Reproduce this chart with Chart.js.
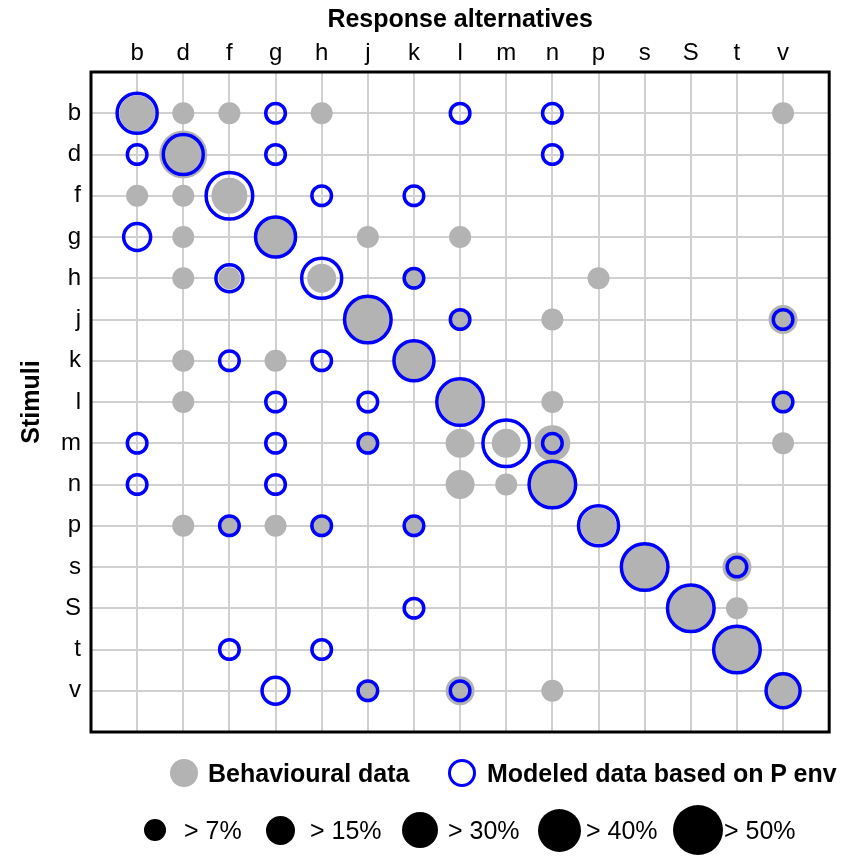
<!DOCTYPE html>
<html>
<head>
<meta charset="utf-8">
<script src="https://cdn.jsdelivr.net/npm/chart.js@4"></script>
<style>
  html, body { margin: 0; padding: 0; background: #fff; }
  #wrap { position: relative; width: 856px; height: 857px; font-family: "Liberation Sans", Arial, sans-serif; }
  #wrap canvas { position: absolute; left: 0; top: 0; }
  .key { position: absolute; height: 40px; line-height: 40px; font-size: 25px; color: #000; white-space: nowrap; }
  .dot { position: absolute; border-radius: 50%; box-sizing: border-box; }
</style>
</head>
<body>
<div id="wrap">
  <canvas id="confusionChart" width="856" height="857"></canvas>
  <div id="legend"></div>
</div>
<script>
// Response alternatives (columns) and stimuli (rows)
const responses = ['b', 'd', 'f', 'g', 'h', 'j', 'k', 'l', 'm', 'n', 'p', 's', 'S', 't', 'v'];
const stimuli = ['b', 'd', 'f', 'g', 'h', 'j', 'k', 'l', 'm', 'n', 'p', 's', 'S', 't', 'v'];

// Size class of each cell: 0 = hidden, 1..5 = the legend classes below
const sizeLabels = ['> 7%', '> 15%', '> 30%', '> 40%', '> 50%'];
const seriesNames = ['Behavioural data', 'Modeled data based on P env'];

// Behavioural data (grey discs), one row per stimulus
const behavioural = [
  [3, 1, 1, 0, 1, 0, 0, 0, 0, 0, 0, 0, 0, 0, 1],
  [0, 5, 0, 0, 0, 0, 0, 0, 0, 0, 0, 0, 0, 0, 0],
  [1, 1, 3, 0, 0, 0, 0, 0, 0, 0, 0, 0, 0, 0, 0],
  [0, 1, 0, 4, 0, 1, 0, 1, 0, 0, 0, 0, 0, 0, 0],
  [0, 1, 1, 0, 2, 0, 1, 0, 0, 0, 1, 0, 0, 0, 0],
  [0, 0, 0, 0, 0, 5, 0, 1, 0, 1, 0, 0, 0, 0, 2],
  [0, 1, 0, 1, 0, 0, 4, 0, 0, 0, 0, 0, 0, 0, 0],
  [0, 1, 0, 0, 0, 0, 0, 4, 0, 1, 0, 0, 0, 0, 1],
  [0, 0, 0, 0, 0, 1, 0, 2, 2, 3, 0, 0, 0, 0, 1],
  [0, 0, 0, 0, 0, 0, 0, 2, 1, 5, 0, 0, 0, 0, 0],
  [0, 1, 1, 1, 1, 0, 1, 0, 0, 0, 3, 0, 0, 0, 0],
  [0, 0, 0, 0, 0, 0, 0, 0, 0, 0, 0, 5, 0, 2, 0],
  [0, 0, 0, 0, 0, 0, 0, 0, 0, 0, 0, 0, 5, 1, 0],
  [0, 0, 0, 0, 0, 0, 0, 0, 0, 0, 0, 0, 0, 5, 0],
  [0, 0, 0, 0, 0, 1, 0, 2, 0, 1, 0, 0, 0, 0, 3]
];

// Modeled data (blue rings), one row per stimulus
const modeled = [
  [4, 0, 0, 1, 0, 0, 0, 1, 0, 1, 0, 0, 0, 0, 0],
  [1, 4, 0, 1, 0, 0, 0, 0, 0, 1, 0, 0, 0, 0, 0],
  [0, 0, 5, 0, 1, 0, 1, 0, 0, 0, 0, 0, 0, 0, 0],
  [2, 0, 0, 4, 0, 0, 0, 0, 0, 0, 0, 0, 0, 0, 0],
  [0, 0, 2, 0, 4, 0, 1, 0, 0, 0, 0, 0, 0, 0, 0],
  [0, 0, 0, 0, 0, 5, 0, 1, 0, 0, 0, 0, 0, 0, 1],
  [0, 0, 1, 0, 1, 0, 4, 0, 0, 0, 0, 0, 0, 0, 0],
  [0, 0, 0, 1, 0, 1, 0, 5, 0, 0, 0, 0, 0, 0, 1],
  [1, 0, 0, 1, 0, 1, 0, 0, 5, 1, 0, 0, 0, 0, 0],
  [1, 0, 0, 1, 0, 0, 0, 0, 0, 5, 0, 0, 0, 0, 0],
  [0, 0, 1, 0, 1, 0, 1, 0, 0, 0, 4, 0, 0, 0, 0],
  [0, 0, 0, 0, 0, 0, 0, 0, 0, 0, 0, 5, 0, 1, 0],
  [0, 0, 0, 0, 0, 0, 1, 0, 0, 0, 0, 0, 5, 0, 0],
  [0, 0, 1, 0, 1, 0, 0, 0, 0, 0, 0, 0, 0, 5, 0],
  [0, 0, 0, 2, 0, 1, 0, 1, 0, 0, 0, 0, 0, 0, 3]
];

// pixel radius for each size class (index 0 unused)
const greyRadius = [0, 11, 14.5, 18, 21.5, 24];
const blueRadius = [0, 9.8, 13.5, 17, 20, 23.3];
const legendDiameter = [22, 29, 36, 43, 50];

const GREY = '#b3b3b3';
const BLUE = '#0000ff';
const FONT = '"Liberation Sans", Arial, sans-serif';

// turn a level matrix into bubble points
function toPoints(matrix, radii) {
    const pts = [];
    matrix.forEach((row, yi) => {
        row.forEach((level, xi) => {
            if (level > 0) {
                pts.push({ x: xi, y: yi, r: radii[level] });
            }
        });
    });
    return pts;
}

function gridColor(ctx) {
    const v = ctx.tick ? ctx.tick.value : -1;
    return (v >= 0 && v < responses.length) ? '#d0d0d0' : 'rgba(0,0,0,0)';
}

// black frame round the plot area
const framePlugin = {
    id: 'frame',
    afterDraw(chart) {
        const { ctx, chartArea } = chart;
        ctx.save();
        ctx.strokeStyle = '#000';
        ctx.lineWidth = 3;
        ctx.strokeRect(chartArea.left, chartArea.top, chartArea.right - chartArea.left, chartArea.bottom - chartArea.top);
        ctx.restore();
    }
};

const ctx = document.getElementById('confusionChart').getContext('2d');
const chart = new Chart(ctx, {
    type: 'bubble',
    data: {
        datasets: [
            {
                label: seriesNames[1],
                data: toPoints(modeled, blueRadius),
                backgroundColor: 'rgba(0,0,0,0)',
                borderColor: BLUE,
                borderWidth: 3.5
            },
            {
                label: seriesNames[0],
                data: toPoints(behavioural, greyRadius),
                backgroundColor: GREY,
                borderColor: GREY,
                borderWidth: 0
            }
        ]
    },
    options: {
        responsive: false,
        maintainAspectRatio: false,
        animation: false,
        events: [],
        layout: { padding: { left: 0, top: 0, right: 24, bottom: 125 } },
        plugins: {
            legend: { display: false },
            tooltip: { enabled: false }
        },
        scales: {
            x: {
                type: 'linear',
                position: 'top',
                min: -1,
                max: 15,
                ticks: {
                    stepSize: 1,
                    autoSkip: false,
                    maxRotation: 0,
                    padding: 4,
                    color: '#000',
                    font: { family: FONT, size: 24 },
                    callback: v => responses[v] ?? ''
                },
                grid: { color: gridColor, lineWidth: 2, drawTicks: false },
                border: { display: false },
                title: {
                    display: true,
                    text: 'Response alternatives',
                    color: '#000',
                    font: { family: FONT, size: 25, weight: 'bold' },
                    padding: { top: 5, bottom: 0 }
                },
                afterFit: scale => { scale.height = 72; }
            },
            y: {
                type: 'linear',
                reverse: true,
                min: -1,
                max: 15,
                ticks: {
                    stepSize: 1,
                    autoSkip: false,
                    padding: 10,
                    color: '#000',
                    font: { family: FONT, size: 24 },
                    callback: v => stimuli[v] ?? ''
                },
                grid: { color: gridColor, lineWidth: 2, drawTicks: false },
                border: { display: false },
                title: {
                    display: true,
                    text: 'Stimuli',
                    color: '#000',
                    font: { family: FONT, size: 25, weight: 'bold' },
                    padding: { top: 17, bottom: 0 }
                },
                afterFit: scale => { scale.width = 91; }
            }
        }
    },
    plugins: [framePlugin]
});

// HTML legend below the plot
const legendEl = document.getElementById('legend');

function addDot(cx, cy, d, fill, border) {
    const el = document.createElement('div');
    el.className = 'dot';
    el.style.left = (cx - d / 2) + 'px';
    el.style.top = (cy - d / 2) + 'px';
    el.style.width = d + 'px';
    el.style.height = d + 'px';
    el.style.background = fill;
    if (border) el.style.border = border;
    legendEl.appendChild(el);
}

function addText(x, cy, text, bold) {
    const el = document.createElement('div');
    el.className = 'key';
    el.style.left = x + 'px';
    el.style.top = (cy - 20) + 'px';
    el.style.fontWeight = bold ? 'bold' : 'normal';
    el.textContent = text;
    legendEl.appendChild(el);
}

// series row
addDot(184, 773, 28, GREY, null);
addText(208, 773, seriesNames[0], true);
addDot(462, 773, 28, 'transparent', '3px solid ' + BLUE);
addText(487, 773, seriesNames[1], true);

// size row
const sizeDotX = [155, 280, 420, 559, 698];
const sizeTextX = [184, 310, 448, 586, 724];
sizeLabels.forEach((label, i) => {
    addDot(sizeDotX[i], 830, legendDiameter[i], '#000', null);
    addText(sizeTextX[i], 830, label, false);
});
</script>
</body>
</html>
